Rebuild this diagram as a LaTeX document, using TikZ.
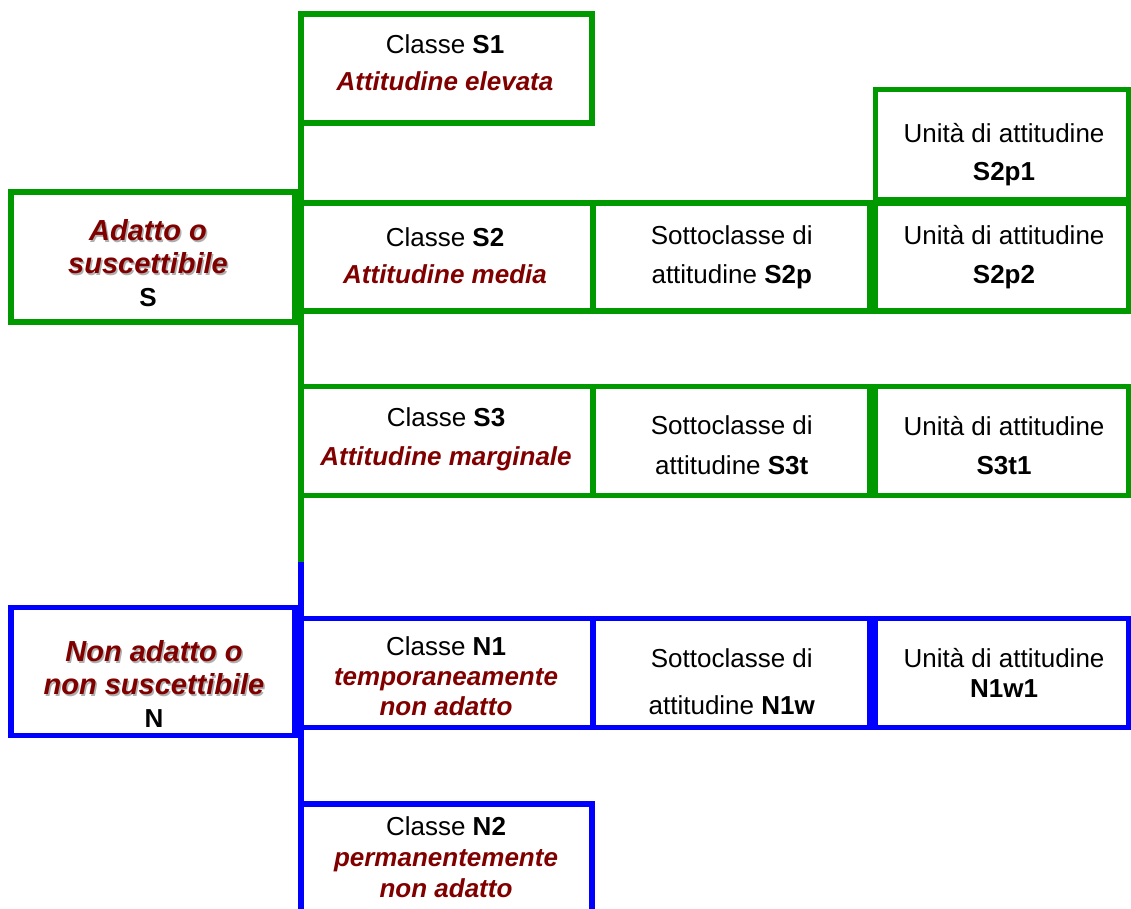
\documentclass[tikz,border=0pt]{standalone}
\usepackage{fontspec}
\setmainfont{Liberation Sans}
\definecolor{boxgreen}{RGB}{0,153,0}
\definecolor{boxblue}{RGB}{0,0,255}
\definecolor{darkred}{RGB}{128,0,0}
\definecolor{shadowgray}{RGB}{175,175,175}
\newcommand\redit[1]{\textcolor{darkred}{\bfseries\itshape #1}}
\newcommand\plainsym[1]{{\fontsize{26}{33}\selectfont\upshape\color{black}#1}}
\begin{document}
\begin{tikzpicture}[x=1pt,y=-1pt,
  box/.style={draw, line width=5.5pt, inner sep=0pt, outer sep=0pt},
  gbox/.style={box, draw=boxgreen},
  bbox/.style={box, draw=boxblue},
  txt/.style={align=center, inner sep=0pt, font=\fontsize{26}{37}\selectfont},
  big/.style={align=center, inner sep=0pt, font=\fontsize{29}{33}\selectfont\bfseries\itshape},
]
\useasboundingbox (0,0) rectangle (1131,909);
\clip (0,0) rectangle (1131,909);

% boxes
\node[gbox, minimum width=291pt, minimum height=109pt] (s1) at (446.5,68.5) {};
\node[gbox, minimum width=253.5pt, minimum height=110.5pt] (s2p1) at (1002.25,144.75) {};
\node[gbox, minimum width=284pt, minimum height=130pt] (s) at (153,257) {};
\node[gbox, minimum width=292pt, minimum height=108pt] (s2) at (447,257) {};
\node[gbox, minimum width=276.5pt, minimum height=108pt] (s2p) at (731.75,257) {};
\node[gbox, minimum width=253.5pt, minimum height=108pt] (s2p2) at (1002.25,257) {};
\node[gbox, minimum width=292pt, minimum height=109pt] (s3) at (447,441) {};
\node[gbox, minimum width=276.5pt, minimum height=109pt] (s3t) at (731.75,441) {};
\node[gbox, minimum width=253.5pt, minimum height=109pt] (s3t1) at (1002.25,441) {};
\node[bbox, minimum width=284pt, minimum height=128pt] (n) at (153,671.5) {};
\node[bbox, minimum width=291.5pt, minimum height=109pt] (n1) at (446.75,673) {};
\node[bbox, minimum width=276.5pt, minimum height=109pt] (n1w) at (731.75,673) {};
\node[bbox, minimum width=253.5pt, minimum height=109pt] (n1w1) at (1002.25,673) {};
\node[bbox, minimum width=291pt, minimum height=136pt] (n2) at (446.5,872) {};

% trunk
\coordinate (split) at (301,562);
\draw[boxgreen, line width=5.5pt] (s1.south west) -- (split);
\draw[boxblue, line width=5.5pt] (split) -- (n2.south west);

% texts
\node[txt] (s1t) at (445,63) {Classe \textbf{S1}\\\redit{Attitudine elevata}};
\node[txt] (s2t) at (445,255.5) {Classe \textbf{S2}\\\redit{Attitudine media}};
\node[txt, font=\fontsize{26}{39}\selectfont] (s3tx) at (446,439) {Classe \textbf{S3}\\\redit{Attitudine marginale}};
\node[txt, font=\fontsize{26}{30}\selectfont] (n1t) at (446,676.5) {Classe \textbf{N1}\\\redit{temporaneamente}\\\redit{non adatto}};
\node[txt, font=\fontsize{26}{31}\selectfont] (n2t) at (446,857.5) {Classe \textbf{N2}\\\redit{permanentemente}\\\redit{non adatto}};

\node[txt, font=\fontsize{26}{39}\selectfont] (s2pt) at (731.75,257.5) {Sottoclasse di\\attitudine \textbf{S2p}};
\node[txt, font=\fontsize{26}{40}\selectfont] (s3tt) at (731.75,445) {Sottoclasse di\\attitudine \textbf{S3t}};
\node[txt, font=\fontsize{26}{47}\selectfont] (n1wt) at (731.75,681.5) {Sottoclasse di\\attitudine \textbf{N1w}};

\node[txt, font=\fontsize{26}{38}\selectfont] (s2p1t) at (1004,154.5) {Unità di attitudine\\\textbf{S2p1}};
\node[txt, font=\fontsize{26}{39}\selectfont] (s2p2t) at (1004,257.5) {Unità di attitudine\\\textbf{S2p2}};
\node[txt, font=\fontsize{26}{39}\selectfont] (s3t1t) at (1004,446) {Unità di attitudine\\\textbf{S3t1}};
\node[txt, font=\fontsize{26}{30}\selectfont] (n1w1t) at (1004,673) {Unità di attitudine\\\textbf{N1w1}};

\node[big, text=shadowgray] (ssh) at (149.5,265.1) {Adatto o\\suscettibile\\\phantom{\plainsym{S}}};
\node[big, text=darkred] (st) at (148,263.6) {Adatto o\\suscettibile\\\plainsym{S}};
\node[big, text=shadowgray] (nsh) at (155.5,685.6) {Non adatto o\\non suscettibile\\\phantom{\plainsym{N}}};
\node[big, text=darkred] (nt) at (154,684.1) {Non adatto o\\non suscettibile\\\plainsym{N}};
\end{tikzpicture}
\end{document}
